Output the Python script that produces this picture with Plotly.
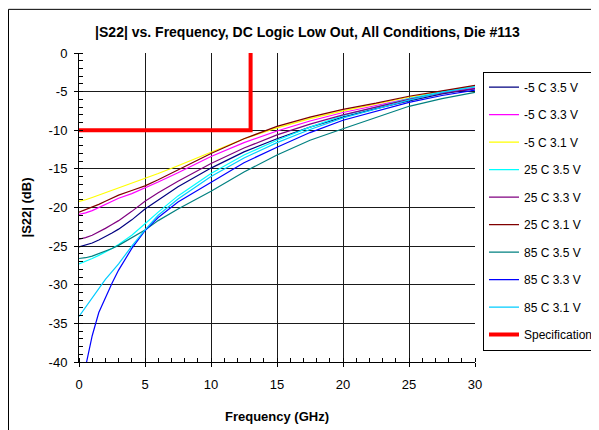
import plotly.graph_objects as go

freq = [0, 0.5, 1, 1.5, 2, 2.5, 3, 4, 5, 6, 7.5, 10, 12.5, 15, 17.5, 20, 22.5, 25, 27.5, 30]
freq_85c33 = [0.5, 1, 1.5, 2, 2.5, 3, 4, 5, 6, 7.5, 10, 12.5, 15, 17.5, 20, 22.5, 25, 27.5, 30]

m5c_35 = [-25.1, -24.9, -24.6, -24.2, -23.8, -23.3, -22.8, -21.6, -20.2, -19.0, -17.3, -14.9, -12.8, -11.1, -9.6, -8.3, -7.2, -6.2, -5.3, -4.6]
m5c_33 = [-20.9, -20.7, -20.4, -20.0, -19.6, -19.2, -18.8, -18.2, -17.5, -16.7, -15.5, -13.4, -11.6, -10.1, -8.8, -7.7, -6.8, -5.9, -5.1, -4.5]
m5c_31 = [-19.2, -19.0, -18.7, -18.4, -18.1, -17.8, -17.5, -16.9, -16.3, -15.6, -14.6, -12.8, -11.1, -9.7, -8.5, -7.5, -6.6, -5.7, -5.0, -4.3]
c25_35 = [-27.3, -27.0, -26.6, -26.2, -25.8, -25.3, -24.8, -23.6, -22.1, -20.6, -18.5, -15.6, -13.2, -11.3, -9.6, -8.1, -7.0, -5.9, -5.0, -4.3]
c25_33 = [-24.1, -23.9, -23.6, -23.2, -22.7, -22.2, -21.7, -20.5, -19.2, -18.1, -16.6, -14.3, -12.3, -10.6, -9.2, -8.0, -7.0, -6.0, -5.2, -4.6]
c25_31 = [-20.6, -20.3, -20.0, -19.6, -19.2, -18.8, -18.4, -17.8, -17.2, -16.4, -15.1, -13.0, -11.1, -9.5, -8.3, -7.3, -6.5, -5.6, -4.9, -4.2]
c85_35 = [-26.6, -26.5, -26.3, -26.0, -25.7, -25.3, -24.9, -23.9, -22.9, -21.7, -20.2, -17.9, -15.4, -13.2, -11.3, -9.8, -8.3, -6.9, -5.9, -5.1]
c85_33 = [-40.6, -36.6, -33.6, -31.6, -29.8, -28.1, -25.3, -23.0, -21.3, -19.3, -16.7, -14.2, -12.2, -10.3, -8.7, -7.5, -6.4, -5.5, -4.8]
c85_31 = [-34.1, -32.9, -31.6, -30.4, -29.3, -28.3, -27.3, -25.0, -22.9, -21.0, -18.9, -16.0, -13.6, -11.6, -9.9, -8.4, -7.2, -6.1, -5.1, -4.4]

spec_x = [0, 13, 13]
spec_y = [-10, -10, 0]

y_tick_vals = [0, -5, -10, -15, -20, -25, -30, -35, -40]
y_tick_text = ["0", "-5", "-10", "-15", "-20", "-25", "-30", "-35", "-40"]

series = [
    ("-5 C 3.5 V", freq, m5c_35, "#000080"),
    ("-5 C 3.3 V", freq, m5c_33, "#FF00FF"),
    ("-5 C 3.1 V", freq, m5c_31, "#FFFF00"),
    ("25 C 3.5 V", freq, c25_35, "#00FFFF"),
    ("25 C 3.3 V", freq, c25_33, "#800080"),
    ("25 C 3.1 V", freq, c25_31, "#800000"),
    ("85 C 3.5 V", freq, c85_35, "#008080"),
    ("85 C 3.3 V", freq_85c33, c85_33, "#0000FF"),
    ("85 C 3.1 V", freq, c85_31, "#00CCFF"),
]

FONT = "Liberation Sans, Arial, sans-serif"

# The page body adds an 8px offset; the figure is sized to compensate.
W, H = 591, 422
ML, MT = 71, 45
PW, PH = 396, 309.4

fig = go.Figure()
for i, (name, xs, ys, col) in enumerate(series):
    fig.add_trace(go.Scatter(x=xs, y=ys, mode="lines", name=name, legendgroup=f"g{i}",
                             line=dict(color=col, width=1.2)))
fig.add_trace(go.Scatter(x=spec_x, y=spec_y, mode="lines", name="Specification", legendgroup="spec",
                         line=dict(color="#FF0000", width=4)))

axis_common = dict(
    showline=True, linecolor="#000000", linewidth=1, mirror=False,
    showgrid=True, gridcolor="#1a1a1a", gridwidth=1,
    ticks="outside", ticklen=4, tickcolor="#000000",
    zeroline=False, automargin=False,
    tickfont=dict(family=FONT, size=13, color="#000000"),
)

fig.update_xaxes(range=[0, 30], dtick=5, tick0=0, ticklabelstandoff=6,
                 minor=dict(dtick=1, ticks="inside", ticklen=4, tickcolor="#000000", showgrid=False),
                 title=dict(text="<b>Frequency (GHz)</b>", font=dict(family=FONT, size=13, color="#000"), standoff=21),
                 **axis_common)
fig.update_yaxes(range=[-40, 0], tickmode="array", tickvals=y_tick_vals, ticktext=y_tick_text,
                 ticklabelstandoff=4,
                 minor=dict(dtick=1, ticks="inside", ticklen=4, tickcolor="#000000", showgrid=False),
                 title=dict(text="<b>|S22| (dB)</b>", font=dict(family=FONT, size=13, color="#000"), standoff=14),
                 **axis_common)

fig.update_layout(
    width=W, height=H,
    margin=dict(l=ML, r=W - ML - PW, t=MT, b=H - MT - PH, autoexpand=False),
    paper_bgcolor="white", plot_bgcolor="white",
    font=dict(family=FONT, size=13, color="#000"),
    title=dict(text="<b>|S22| vs. Frequency, DC Logic Low Out, All Conditions, Die #113</b>",
               x=299.5 / W, xref="container", xanchor="center",
               y=1 - 24 / H, yref="container", yanchor="middle",
               font=dict(family=FONT, size=14, color="#000")),
    legend=dict(x=1.0202, y=0.94, xanchor="left", yanchor="top",
                bordercolor="#000000", borderwidth=1, bgcolor="white",
                font=dict(family=FONT, size=12, color="#000"),
                tracegroupgap=8.5, itemwidth=30),
    showlegend=True,
)

# Outer chart frame (right and bottom edges lie beyond the visible canvas)
fig.add_shape(type="rect", xref="paper", yref="paper",
              x0=(0.5 - ML) / PW, x1=1.4, y0=-0.3, y1=1 + (MT - 1.3) / PH,
              line=dict(color="#000000", width=1), fillcolor="rgba(0,0,0,0)", layer="below")

fig.write_html("out.html")
